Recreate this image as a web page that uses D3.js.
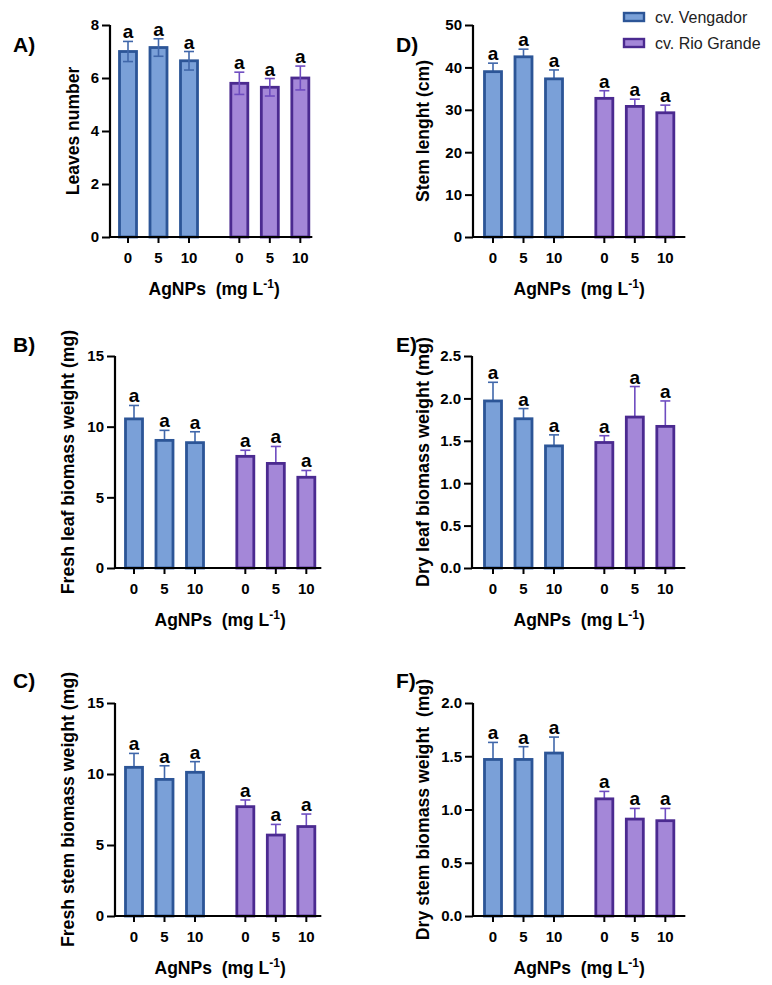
<!DOCTYPE html>
<html>
<head>
<meta charset="utf-8">
<script src="https://cdn.jsdelivr.net/npm/d3@7"></script>
<style>
  body { margin: 0; background: #fff; }
  text { font-family: "Liberation Sans", Arial, sans-serif; }
</style>
</head>
<body>
<script>
var doses = ["0", "5", "10"];
var cultivars = ["cv. Vengador", "cv. Rio Grande"];

// means and upper error (mean + SE)
var leavesVeng = [7.0, 7.15, 6.65],   leavesVengErr = [7.38, 7.48, 7.0];
var leavesRio  = [5.8, 5.65, 6.0],    leavesRioErr  = [6.22, 5.98, 6.45];
var stemVeng   = [39.0, 42.5, 37.3],  stemVengErr   = [41.0, 44.3, 39.4];
var stemRio    = [32.7, 30.8, 29.3],  stemRioErr    = [34.5, 32.5, 31.1];
var fLeafVeng  = [10.55, 9.03, 8.87], fLeafVengErr  = [11.5, 9.74, 9.64];
var fLeafRio   = [7.9, 7.4, 6.42],    fLeafRioErr   = [8.33, 8.6, 6.9];
var dLeafVeng  = [1.97, 1.76, 1.44],  dLeafVengErr  = [2.19, 1.88, 1.57];
var dLeafRio   = [1.48, 1.78, 1.67],  dLeafRioErr   = [1.56, 2.14, 1.97];
var fStemVeng  = [10.47, 9.62, 10.12],fStemVengErr  = [11.45, 10.58, 10.87];
var fStemRio   = [7.7, 5.7, 6.3],     fStemRioErr   = [8.17, 6.45, 7.18];
var dStemVeng  = [1.47, 1.47, 1.53],  dStemVengErr  = [1.63, 1.59, 1.68];
var dStemRio   = [1.10, 0.91, 0.895], dStemRioErr   = [1.17, 1.01, 1.01];

var fill = ["#7aa0d8", "#a487d8"],
    stroke = ["#2c5597", "#4b2a90"],
    errColor = ["#4067aa", "#6e4cc0"];

var panels = [
  {letter: "A)", label: "Leaves number", lsize: 17.5, max: 8, step: 2, fmt: "d", veng: [leavesVeng, leavesVengErr], rio: [leavesRio, leavesRioErr],
   ax: 110, top: 25, zero: 237, first: 128, tail: 12, lx: 73, ly: 52, lxx: 13, errOnTop: true},
  {letter: "B)", label: "Fresh leaf biomass weight (mg)", lsize: 17.7, max: 15, step: 5, fmt: "d", veng: [fLeafVeng, fLeafVengErr], rio: [fLeafRio, fLeafRioErr],
   ax: 115, top: 356, zero: 568, first: 134, tail: 15, lx: 68, ly: 352, lxx: 13},
  {letter: "C)", label: "Fresh stem biomass weight (mg)", lsize: 17.7, max: 15, step: 5, fmt: "d", veng: [fStemVeng, fStemVengErr], rio: [fStemRio, fStemRioErr],
   ax: 115, top: 703, zero: 916, first: 134, tail: 15, lx: 68, ly: 688, lxx: 13},
  {letter: "D)", label: "Stem lenght (cm)", lsize: 17.5, max: 50, step: 10, fmt: "d", veng: [stemVeng, stemVengErr], rio: [stemRio, stemRioErr],
   ax: 473, top: 25, zero: 237, first: 493, tail: 20, lx: 423, ly: 52, lxx: 396},
  {letter: "E)", label: "Dry leaf biomass weight (mg)", lsize: 18, max: 2.5, step: 0.5, fmt: ".1f", veng: [dLeafVeng, dLeafVengErr], rio: [dLeafRio, dLeafRioErr],
   ax: 472, top: 356, zero: 568, first: 493, tail: 20, lx: 423, ly: 352, lxx: 396},
  {letter: "F)", label: "Dry stem biomass weight  (mg)", lsize: 17.7, max: 2.0, step: 0.5, fmt: ".1f", veng: [dStemVeng, dStemVengErr], rio: [dStemRio, dStemRioErr],
   ax: 473, top: 703, zero: 916, first: 493, tail: 20, lx: 423, ly: 688, lxx: 396}
];

var svg = d3.select("body").append("svg")
    .attr("width", 772)
    .attr("height", 985);

var slots = [0, 1, 2, 3.65, 4.65, 5.65],
    spacing = 30.5,
    barW = 17;

panels.forEach(function (p) {
    var g = svg.append("g");
    var y = d3.scaleLinear().domain([0, p.max]).range([p.zero, p.top]);
    var x = d3.scaleLinear().domain([0, 1]).range([p.first, p.first + spacing]);

    var bars = [];
    [p.veng, p.rio].forEach(function (s, ci) {
        s[0].forEach(function (v, i) {
            bars.push({c: ci, dose: doses[i], mean: v, err: s[1][i], slot: slots[ci * 3 + i]});
        });
    });
    var axEnd = x(slots[5]) + p.tail;

    function drawErr() {
        var e = g.append("g").selectAll("g").data(bars).enter().append("g")
            .attr("stroke", function (d) { return errColor[d.c]; })
            .attr("stroke-width", 1.6);
        e.append("line")
            .attr("x1", function (d) { return x(d.slot); })
            .attr("x2", function (d) { return x(d.slot); })
            .attr("y1", function (d) { return y(p.errOnTop ? 2 * d.mean - d.err : d.mean); })
            .attr("y2", function (d) { return y(d.err); });
        e.append("line")
            .attr("x1", function (d) { return x(d.slot) - 5; })
            .attr("x2", function (d) { return x(d.slot) + 5; })
            .attr("y1", function (d) { return y(d.err); })
            .attr("y2", function (d) { return y(d.err); });
        if (p.errOnTop) {
            e.append("line")
                .attr("x1", function (d) { return x(d.slot) - 5; })
                .attr("x2", function (d) { return x(d.slot) + 5; })
                .attr("y1", function (d) { return y(2 * d.mean - d.err); })
                .attr("y2", function (d) { return y(2 * d.mean - d.err); });
        }
    }

    if (!p.errOnTop) drawErr();

    g.append("g").selectAll("rect").data(bars).enter().append("rect")
        .attr("x", function (d) { return x(d.slot) - barW / 2; })
        .attr("y", function (d) { return y(d.mean); })
        .attr("width", barW)
        .attr("height", function (d) { return y(0) - y(d.mean); })
        .attr("fill", function (d) { return fill[d.c]; })
        .attr("stroke", function (d) { return stroke[d.c]; })
        .attr("stroke-width", 2.8);

    if (p.errOnTop) drawErr();

    // significance letters
    g.append("g").selectAll("text").data(bars).enter().append("text")
        .attr("x", function (d) { return x(d.slot); })
        .attr("y", function (d) { return y(d.err) - 3; })
        .attr("text-anchor", "middle")
        .attr("font-size", 19)
        .attr("font-weight", "bold")
        .text("a");

    // y axis
    var yAxis = g.append("g")
        .attr("transform", "translate(" + p.ax + ",0)")
        .call(d3.axisLeft(y).tickValues(d3.range(0, p.max + p.step / 2, p.step))
            .tickFormat(d3.format(p.fmt)).tickSize(8).tickPadding(3));
    yAxis.select(".domain").attr("stroke-width", 2.2).attr("d", "M0," + p.zero + "V" + p.top);
    yAxis.selectAll(".tick line").attr("stroke-width", 2);
    yAxis.selectAll(".tick text").attr("font-size", 15).attr("font-weight", "bold")
        .attr("font-family", "'Liberation Sans', Arial, sans-serif").attr("fill", "#000");

    // x axis
    g.append("line")
        .attr("x1", p.ax).attr("x2", axEnd)
        .attr("y1", p.zero).attr("y2", p.zero)
        .attr("stroke", "#000").attr("stroke-width", 2.2);
    g.append("g").selectAll("line").data(bars).enter().append("line")
        .attr("x1", function (d) { return x(d.slot); })
        .attr("x2", function (d) { return x(d.slot); })
        .attr("y1", p.zero).attr("y2", p.zero + 6)
        .attr("stroke", "#000").attr("stroke-width", 2);
    g.append("g").selectAll("text").data(bars).enter().append("text")
        .attr("x", function (d) { return x(d.slot); })
        .attr("y", p.zero + 26)
        .attr("text-anchor", "middle")
        .attr("font-size", 15)
        .attr("font-weight", "bold")
        .text(function (d) { return d.dose; });

    var title = g.append("text")
        .attr("x", (x(slots[0]) + x(slots[5])) / 2)
        .attr("y", p.zero + 58)
        .attr("text-anchor", "middle")
        .attr("font-size", 17.5)
        .attr("font-weight", "bold")
        .style("white-space", "pre");
    title.append("tspan").text("AgNPs  (mg L");
    title.append("tspan").attr("font-size", 12).attr("dy", -7).text("-1");
    title.append("tspan").attr("dy", 7).text(")");

    g.append("text")
        .attr("transform", "translate(" + (p.lx + 6) + "," + ((p.top + p.zero) / 2) + ") rotate(-90)")
        .attr("text-anchor", "middle")
        .attr("font-size", p.lsize)
        .attr("font-weight", "bold")
        .style("white-space", "pre")
        .text(p.label);

    g.append("text")
        .attr("x", p.lxx).attr("y", p.ly)
        .attr("font-size", 21)
        .attr("font-weight", "bold")
        .text(p.letter);
});

// legend
var legend = svg.append("g").selectAll("g").data(cultivars).enter().append("g")
    .attr("transform", function (d, i) { return "translate(624," + (17 + i * 26) + ")"; });
legend.append("rect")
    .attr("x", 0).attr("y", -4).attr("width", 20).attr("height", 8)
    .attr("fill", function (d, i) { return fill[i]; })
    .attr("stroke", function (d, i) { return stroke[i]; })
    .attr("stroke-width", 2.4);
legend.append("text")
    .attr("x", 31).attr("y", 5.5)
    .attr("font-size", 16)
    .attr("fill", "#222")
    .text(function (d) { return d; });
</script>
</body>
</html>
